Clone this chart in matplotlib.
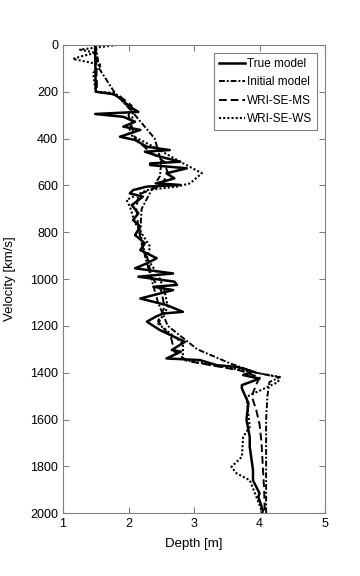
import matplotlib
matplotlib.use("Agg")
from matplotlib import pyplot as plt

plt.rcParams['font.family'] = ['Liberation Sans', 'DejaVu Sans']

# true model
trueDepth = [0, 200, 210, 227, 264, 286, 295, 307, 328, 349, 363, 392, 406, 435, 449, 456,
             477, 499, 506, 513, 527, 548, 570, 591, 598, 605, 620, 634, 648, 684, 719, 748,
             776, 812, 847, 876, 911, 933, 954, 976, 990, 1011, 1025, 1033, 1047, 1083, 1111,
             1140, 1147, 1160, 1182, 1218, 1268, 1303, 1310, 1339, 1346, 1368, 1375, 1395,
             1410, 1425, 1453, 1467, 1530, 1600, 1674, 1716, 1816, 1860, 1915, 1930, 1987, 2000]
trueVel = [1.49, 1.50, 1.77, 1.87, 2.02, 2.15, 1.49, 1.92, 2.10, 1.92, 2.18, 1.87, 2.10, 2.28,
           2.63, 2.25, 2.48, 2.79, 2.33, 2.33, 2.89, 2.58, 2.70, 2.43, 2.79, 2.28, 2.07, 2.02,
           2.22, 2.05, 2.15, 2.07, 2.18, 2.10, 2.25, 2.18, 2.43, 2.28, 2.10, 2.68, 2.15, 2.70,
           2.74, 2.38, 2.68, 2.18, 2.58, 2.83, 2.53, 2.42, 2.28, 2.48, 2.86, 2.66, 2.80, 2.58,
           3.09, 3.35, 3.65, 3.90, 3.75, 4.00, 3.73, 3.73, 3.83, 3.80, 3.85, 3.85, 3.90, 3.90,
           4.00, 3.98, 4.05, 4.04]

# initial model
initDepth = [0, 100, 200, 300, 400, 500, 560, 620, 700, 800, 900, 1000, 1100, 1200, 1300,
             1360, 1400, 1420, 1440, 1500, 1600, 1800, 2000]
initVel = [1.50, 1.55, 1.78, 2.10, 2.40, 2.50, 2.48, 2.35, 2.20, 2.18, 2.25, 2.35, 2.45, 2.60,
           3.05, 3.55, 3.95, 4.30, 4.15, 4.12, 4.10, 4.10, 4.10]

# WRI-SE-MS
msDepth = [0, 200, 215, 260, 300, 350, 400, 450, 500, 550, 600, 640, 700, 780, 850, 920,
           990, 1050, 1120, 1180, 1250, 1310, 1350, 1390, 1420, 1450, 1500, 1560, 1620, 1700,
           1800, 1900, 2000]
msVel = [1.50, 1.52, 1.85, 2.05, 2.00, 2.05, 2.10, 2.30, 2.55, 2.60, 2.50, 2.15, 2.12, 2.15,
         2.20, 2.30, 2.35, 2.50, 2.55, 2.45, 2.65, 2.70, 2.90, 3.70, 4.00, 3.95, 3.88, 3.95,
         4.00, 4.03, 4.05, 4.07, 4.08]

# WRI-SE-WS
wsDepth = [0, 20, 34, 50, 60, 85, 120, 200, 205, 285, 330, 380, 430, 499, 548, 591, 605,
           620, 662, 690, 760, 862, 911, 980, 1050, 1120, 1190, 1275, 1345, 1380, 1418,
           1440, 1503, 1631, 1674, 1759, 1802, 1830, 1859, 1915, 1987, 2000]
wsVel = [1.83, 1.26, 1.50, 1.26, 1.15, 1.59, 1.46, 1.50, 1.78, 2.07, 2.05, 2.00, 2.35, 2.79,
         3.12, 2.94, 2.74, 2.28, 1.97, 2.02, 2.10, 2.33, 2.28, 2.45, 2.55, 2.60, 2.45, 2.83,
         2.83, 3.55, 4.31, 4.28, 3.80, 3.85, 3.75, 3.73, 3.57, 3.65, 3.85, 3.93, 4.03, 4.04]

fig = plt.figure(figsize=(3.6, 5.76), dpi=100)
ax = fig.add_axes([0.175, 0.109, 0.728, 0.813])

ax.plot(trueVel, trueDepth, color='black', linestyle='-', linewidth=1.8, label='True model')
ax.plot(initVel, initDepth, color='black', linestyle=(0, (3, 1, 1, 1)), linewidth=1.4, label='Initial model')
ax.plot(msVel, msDepth, color='black', linestyle=(0, (4, 2)), linewidth=1.4, label='WRI-SE-MS')
ax.plot(wsVel, wsDepth, color='black', linestyle=(0, (1, 1)), linewidth=1.5, label='WRI-SE-WS')

ax.set_xlim(1, 5)
ax.set_ylim(2000, 0)
ax.set_xticks([1, 2, 3, 4, 5])
ax.set_yticks(range(0, 2001, 200))
ax.set_xlabel('Depth [m]', fontsize=9.5, labelpad=6)
ax.set_ylabel('Velocity [km/s]', fontsize=9.5, labelpad=10)
ax.tick_params(direction='in', top=True, right=True, length=4, color='#808080', labelsize=9)
for sp in ax.spines.values():
    sp.set_color('#808080')

leg = ax.legend(loc='upper right', fontsize=8.5, fancybox=False, framealpha=1,
                handlelength=2.2, handletextpad=0.2, labelspacing=0.55, borderaxespad=0.7)
leg.get_frame().set_edgecolor('#808080')
leg.get_frame().set_linewidth(0.8)

fig.savefig('out.png', dpi=100)
